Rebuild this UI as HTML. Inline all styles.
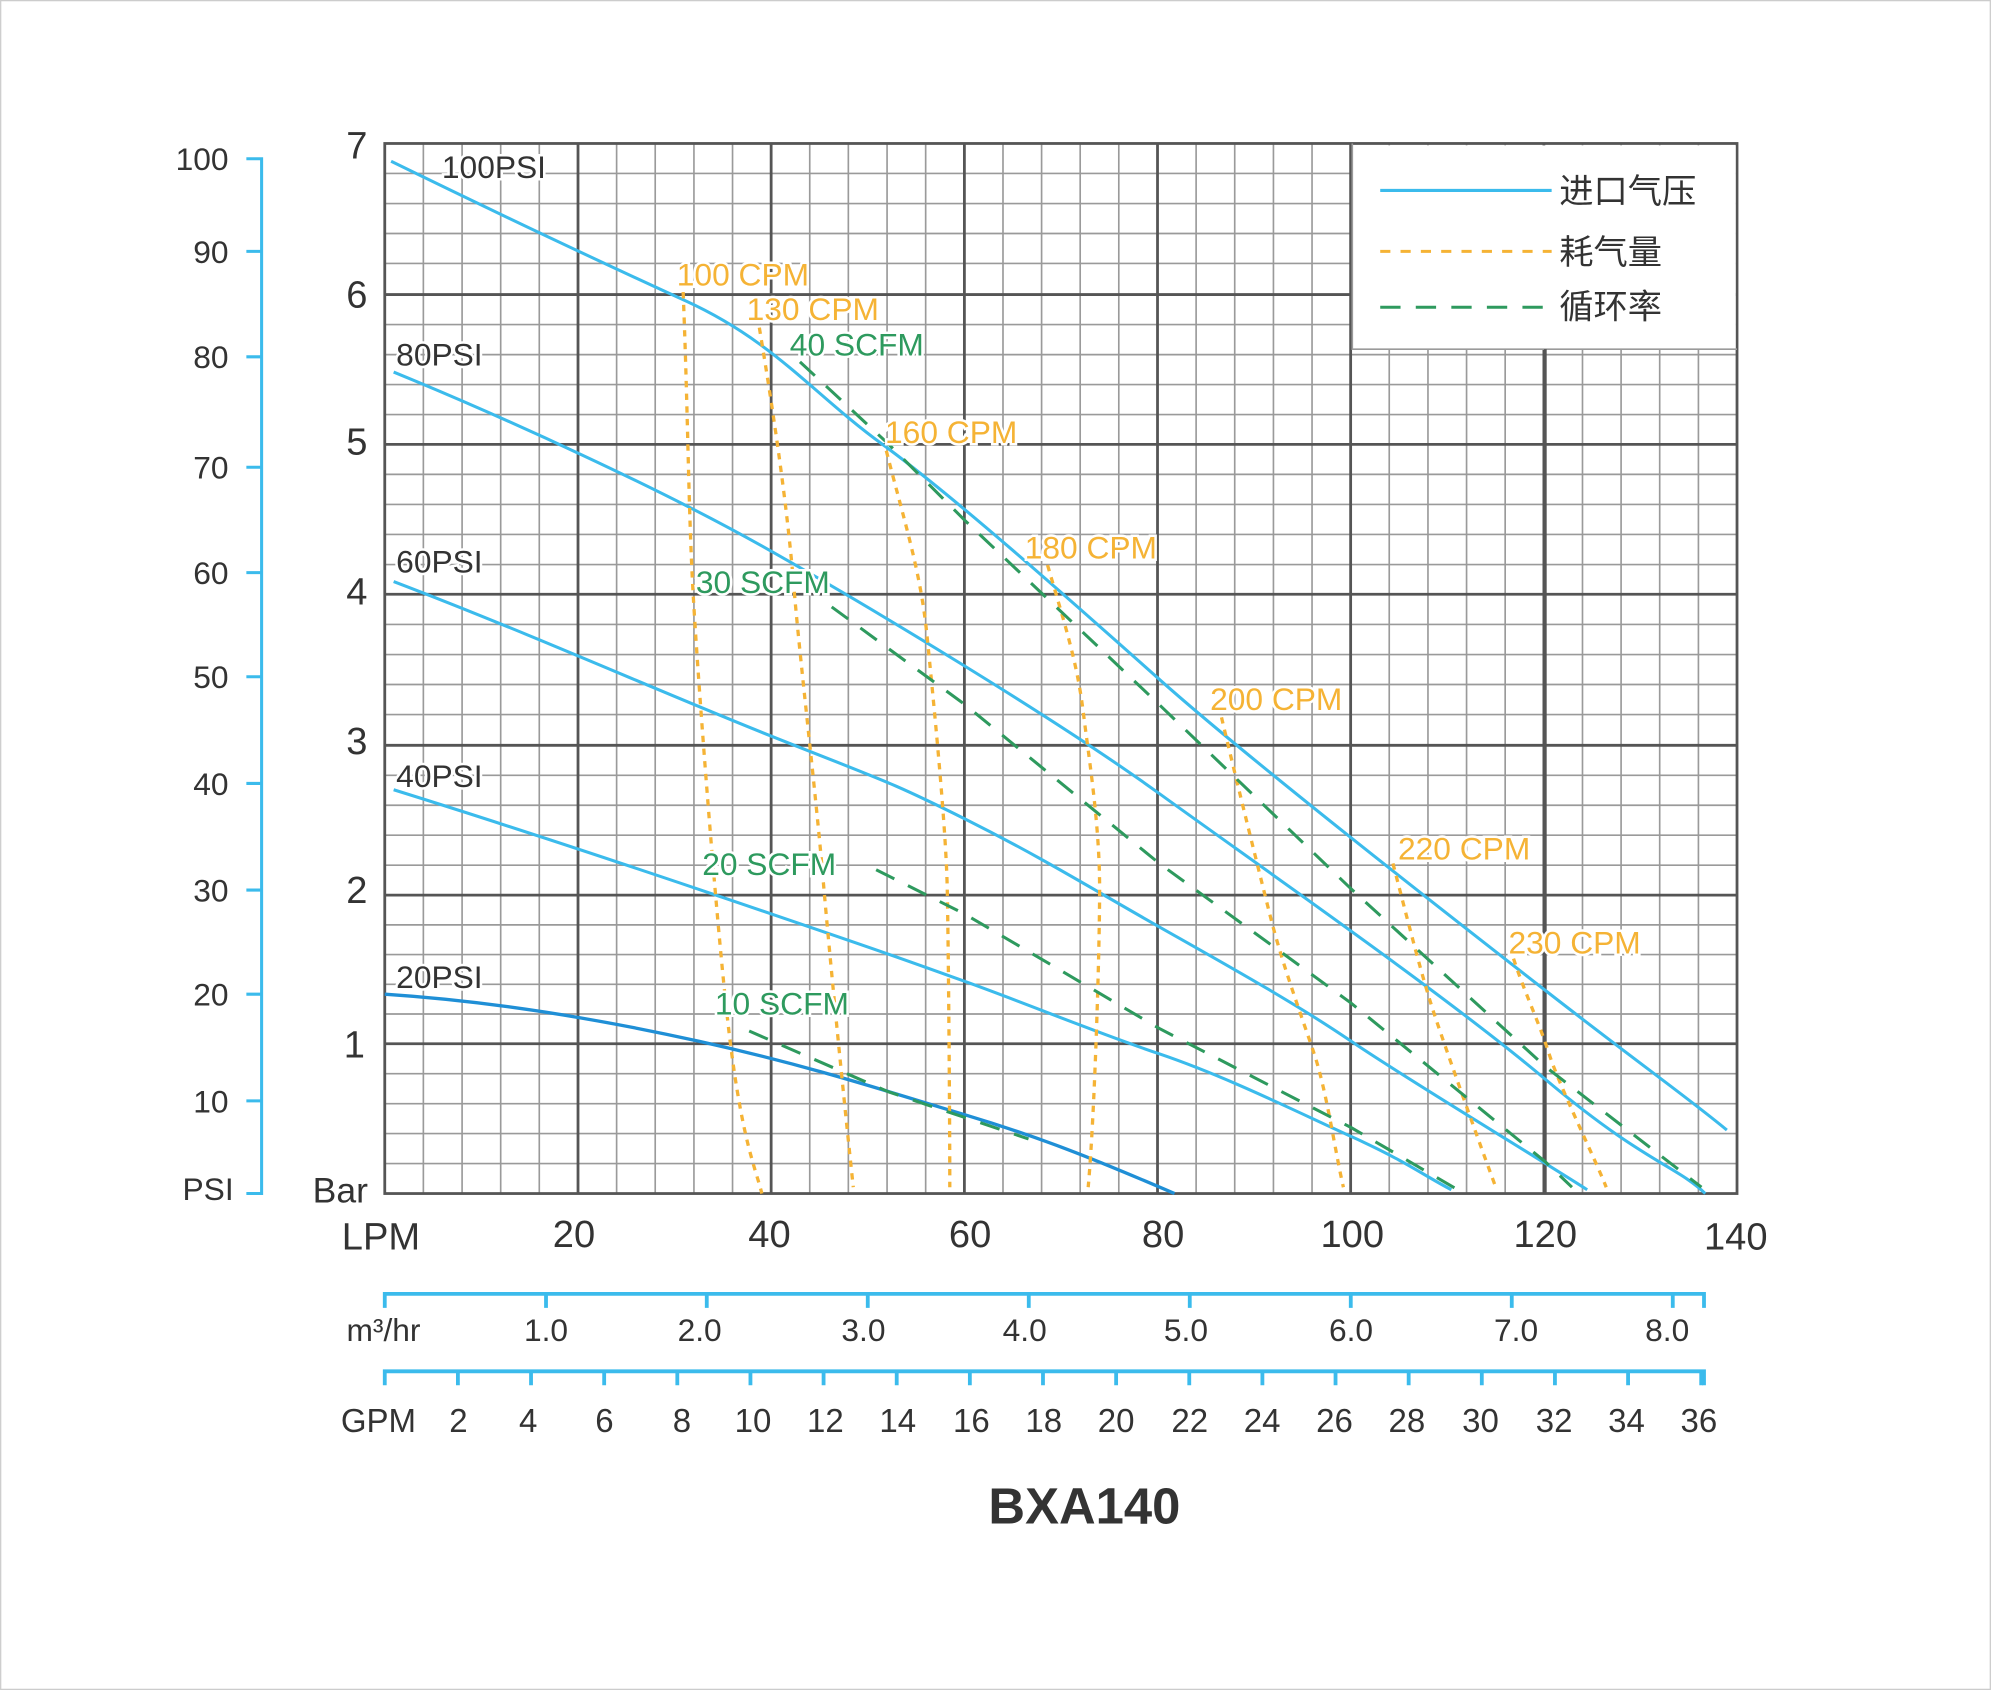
<!DOCTYPE html>
<html><head><meta charset="utf-8"><style>
html,body{margin:0;padding:0;background:#fff;width:1991px;height:1690px;overflow:hidden}
svg{display:block}
text{font-family:"Liberation Sans","Noto Sans CJK SC",sans-serif}
</style></head><body>
<svg width="1991" height="1690" viewBox="0 0 1568 1331" xmlns="http://www.w3.org/2000/svg">
<rect x="0.5" y="0.5" width="1567" height="1330" fill="#fff" stroke="#ccc"/>
<g id="grid">
<g stroke="#999" stroke-width="1.2">
<script>/* none */</script>
</g>
</g>
<g stroke="#9a9a9a" stroke-width="1.3" fill="none">
<path d="M333.4 113V940M363.9 113V940M394.3 113V940M424.7 113V940M485.6 113V940M516 113V940M546.5 113V940M576.9 113V940M637.7 113V940M668.1 113V940M698.6 113V940M729 113V940M789.9 113V940M820.3 113V940M850.7 113V940M881.1 113V940M942 113V940M972.4 113V940M1002.9 113V940M1033.3 113V940M1094.1 113V940M1124.6 113V940M1155 113V940M1185.4 113V940M1246.3 113V940M1276.7 113V940M1307.1 113V940M1337.6 113V940"/>
<path d="M303 136.6H1368M303 160.3H1368M303 183.9H1368M303 207.5H1368M303 255.6H1368M303 279.3H1368M303 302.9H1368M303 326.5H1368M303 373.6H1368M303 397.3H1368M303 420.9H1368M303 444.6H1368M303 491.8H1368M303 515.5H1368M303 539.1H1368M303 562.8H1368M303 610.6H1368M303 634.2H1368M303 657.8H1368M303 681.4H1368M303 728.4H1368M303 751.8H1368M303 775.2H1368M303 798.6H1368M303 845.6H1368M303 869.2H1368M303 892.8H1368M303 916.4H1368"/>
</g>
<g stroke="#555" stroke-width="2.2" fill="none">
<path d="M455.2 113V940M607.3 113V940M759.5 113V940M911.6 113V940M1063.7 113V940M1215.9 113V940"/>
<path d="M303 232H1368M303 350H1368M303 468H1368M303 587H1368M303 705H1368M303 822H1368"/>
<rect x="303" y="113" width="1065" height="827"/>
</g>
<rect x="1065" y="114.5" width="302" height="160" fill="#fff"/>
<path d="M1065 113V275H1368" stroke="#9a9a9a" stroke-width="1.3" fill="none"/>
<path d="M1217 275V940" stroke="#555" stroke-width="2.2"/>

<!-- pressure curves -->
<g fill="none" stroke="#3bbbec" stroke-width="2.4">
<path d="M308 127 C400 172,470 205,540 237 S640 310,695 350 S840 470,913 535 S1140 720,1217 780 S1330 865,1360 890"/>
<path d="M310 293 C400 330,520 385,600 430 S830 565,913 625 S1140 785,1217 850 S1320 918,1343 940"/>
<path d="M310 458 C420 500,520 545,608 580 S700 615,760 645 S860 700,913 730 S1020 790,1064 820 S1200 905,1250 937"/>
<path d="M310 622 C400 650,520 690,608 720 S710 755,760 773 S860 812,913 830 S1020 875,1064 895 S1120 925,1143 937"/>
</g>
<path d="M303 783 C380 788,460 800,550 820 S700 860,760 878 S860 912,925 940" fill="none" stroke="#1f8fd6" stroke-width="2.6"/>

<!-- CPM dotted -->
<g fill="none" stroke="#f5b335" stroke-width="2.6" stroke-dasharray="5 5">
<path d="M538 230 C542 330,542 400,546 470 S565 740,575 820 S595 920,600 940"/>
<path d="M598 258 C610 330,620 400,625 460 S642 620,648 690 S665 870,672 935"/>
<path d="M698 355 C712 410,725 450,730 500 S745 650,746 700 S748 880,748 935"/>
<path d="M825 445 C838 490,848 520,853 560 S866 650,866 700 S862 880,857 935"/>
<path d="M962 565 C975 620,990 680,1000 720 S1025 800,1035 830 S1052 910,1058 935"/>
<path d="M1097 680 C1110 730,1120 770,1130 800 S1165 900,1178 935"/>
<path d="M1192 755 C1200 780,1212 805,1220 830 S1255 910,1265 935"/>
</g>
<!-- SCFM dashed -->
<g fill="none" stroke="#2e9a5e" stroke-width="2.4" stroke-dasharray="16 12">
<path d="M630 285 L700 350 L760 410 L913 555 L1064 700 L1217 840 L1340 935"/>
<path d="M655 478 L760 555 L913 680 L1064 790 L1217 915 L1238 935"/>
<path d="M690 685 L760 720 L913 810 L1064 888 L1148 937"/>
<path d="M590 812 L700 860 L810 897"/>
</g>

<!-- series labels -->
<g font-size="25" fill="#333" stroke="#fff" stroke-width="4" paint-order="stroke">
<text x="348" y="140">100PSI</text>
<text x="312" y="288">80PSI</text>
<text x="312" y="451">60PSI</text>
<text x="312" y="620">40PSI</text>
<text x="312" y="778">20PSI</text>
</g>
<g font-size="25" fill="#f5b335" stroke="#fff" stroke-width="4" paint-order="stroke">
<text x="533" y="225">100 CPM</text>
<text x="588" y="252">130 CPM</text>
<text x="697" y="349">160 CPM</text>
<text x="807" y="440">180 CPM</text>
<text x="953" y="559">200 CPM</text>
<text x="1101" y="677">220 CPM</text>
<text x="1188" y="751">230 CPM</text>
</g>
<g font-size="25" fill="#2e9a5e" stroke="#fff" stroke-width="4" paint-order="stroke">
<text x="622" y="280">40 SCFM</text>
<text x="548" y="467">30 SCFM</text>
<text x="553" y="689">20 SCFM</text>
<text x="563" y="799">10 SCFM</text>
</g>

<!-- legend -->
<line x1="1087" y1="150" x2="1222" y2="150" stroke="#3bbbec" stroke-width="2.4"/>
<line x1="1087" y1="198" x2="1222" y2="198" stroke="#f5b335" stroke-width="2.4" stroke-dasharray="8 8"/>
<line x1="1087" y1="242" x2="1222" y2="242" stroke="#2e9a5e" stroke-width="2.4" stroke-dasharray="16 12"/>
<g font-size="27" fill="#333">
<text x="1228" y="160">进口气压</text>
<text x="1228" y="208">耗气量</text>
<text x="1228" y="251">循环率</text>
</g>

<!-- Bar axis labels -->
<g font-size="30" fill="#333" text-anchor="middle">
<text x="281" y="125">7</text>
<text x="281" y="242">6</text>
<text x="281" y="358">5</text>
<text x="281" y="476">4</text>
<text x="281" y="594">3</text>
<text x="281" y="711">2</text>
<text x="279" y="833">1</text>
</g>
<text x="268" y="947" font-size="28" fill="#333" text-anchor="middle">Bar</text>

<!-- PSI axis -->
<g stroke="#3bbbec" stroke-width="2.4" fill="none">
<path d="M194 125H206V940H194"/>
<path d="M194 198H206M194 281H206M194 368H206M194 451H206M194 533H206M194 617H206M194 701H206M194 783H206M194 867H206"/>
</g>
<g font-size="25" fill="#333" text-anchor="end">
<text x="180" y="134">100</text>
<text x="180" y="207">90</text>
<text x="180" y="290">80</text>
<text x="180" y="377">70</text>
<text x="180" y="460">60</text>
<text x="180" y="542">50</text>
<text x="180" y="626">40</text>
<text x="180" y="710">30</text>
<text x="180" y="792">20</text>
<text x="180" y="876">10</text>
<text x="184" y="945">PSI</text>
</g>

<!-- LPM labels -->
<g font-size="30" fill="#333" text-anchor="middle">
<text x="300" y="984">LPM</text>
<text x="452" y="982">20</text>
<text x="606" y="982">40</text>
<text x="764" y="982">60</text>
<text x="916" y="982">80</text>
<text x="1065" y="982">100</text>
<text x="1217" y="982">120</text>
<text x="1367" y="984">140</text>
</g>

<!-- m3/hr axis -->
<g stroke="#3bbbec" stroke-width="3" fill="none">
<path d="M303 1030V1019H1342V1030"/>
<path d="M430 1019V1030M556.6 1019V1030M683.4 1019V1030M810.2 1019V1030M937 1019V1030M1063.8 1019V1030M1190.6 1019V1030M1317.4 1019V1030"/>
<path d="M303 1091V1080H1342V1091"/>
<path d="M360.6 1080V1091M418.2 1080V1091M475.8 1080V1091M533.4 1080V1091M591 1080V1091M648.6 1080V1091M706.2 1080V1091M763.8 1080V1091M821.4 1080V1091M879 1080V1091M936.6 1080V1091M994.2 1080V1091M1051.8 1080V1091M1109.4 1080V1091M1167 1080V1091M1224.6 1080V1091M1282.2 1080V1091M1339.8 1080V1091"/>
</g>
<g font-size="25" fill="#333" text-anchor="middle">
<text x="302" y="1056">m³/hr</text>
<text x="430" y="1056">1.0</text>
<text x="551" y="1056">2.0</text>
<text x="680" y="1056">3.0</text>
<text x="807" y="1056">4.0</text>
<text x="934" y="1056">5.0</text>
<text x="1064" y="1056">6.0</text>
<text x="1194" y="1056">7.0</text>
<text x="1313" y="1056">8.0</text>
</g>
<g font-size="26" fill="#333" text-anchor="middle">
<text x="298" y="1128">GPM</text>
<text x="361" y="1128">2</text>
<text x="416" y="1128">4</text>
<text x="476" y="1128">6</text>
<text x="537" y="1128">8</text>
<text x="593" y="1128">10</text>
<text x="650" y="1128">12</text>
<text x="707" y="1128">14</text>
<text x="765" y="1128">16</text>
<text x="822" y="1128">18</text>
<text x="879" y="1128">20</text>
<text x="937" y="1128">22</text>
<text x="994" y="1128">24</text>
<text x="1051" y="1128">26</text>
<text x="1108" y="1128">28</text>
<text x="1166" y="1128">30</text>
<text x="1224" y="1128">32</text>
<text x="1281" y="1128">34</text>
<text x="1338" y="1128">36</text>
</g>
<text x="854" y="1200" font-size="40" font-weight="bold" fill="#333" text-anchor="middle">BXA140</text>
</svg>
</body></html>
